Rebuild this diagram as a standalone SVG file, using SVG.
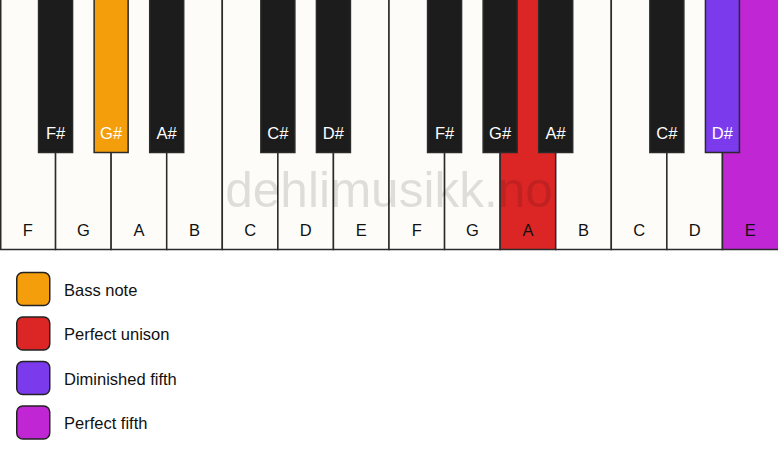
<svg xmlns="http://www.w3.org/2000/svg" width="778" height="461" viewBox="0 0 778 461">
<style>
.w{fill:#fdfcf9;stroke:#2a2a2a;stroke-width:1.5}
.b{fill:#1c1c1c;stroke:#2a2a2a;stroke-width:1.5}
.bass{fill:#f59e0b}
.uni{fill:#dc2626}
.dim{fill:#7c3aed}
.p5{fill:#c026d3}
.lw{font-family:"Liberation Sans",Arial,sans-serif;font-size:16.5px;fill:#111;text-anchor:middle}
.lb{font-family:"Liberation Sans",Arial,sans-serif;font-size:16.5px;fill:#fff;text-anchor:middle}
.lg{font-family:"Liberation Sans",Arial,sans-serif;font-size:16.5px;fill:#111}
.sw{stroke:#222;stroke-width:1.5}
</style>
<rect width="778" height="461" fill="#fff"/>
<g id="white-keys">
<g id="key-F1"><rect class="w" x="0.75" y="-1" width="54.82" height="250.5"/><text class="lw" x="27.8" y="236">F</text></g>
<g id="key-G1"><rect class="w" x="55.57" y="-1" width="55.57" height="250.5"/><text class="lw" x="83.4" y="236">G</text></g>
<g id="key-A1"><rect class="w" x="111.14" y="-1" width="55.57" height="250.5"/><text class="lw" x="138.9" y="236">A</text></g>
<g id="key-B1"><rect class="w" x="166.71" y="-1" width="55.57" height="250.5"/><text class="lw" x="194.5" y="236">B</text></g>
<g id="key-C1"><rect class="w" x="222.29" y="-1" width="55.57" height="250.5"/><text class="lw" x="250.1" y="236">C</text></g>
<g id="key-D1"><rect class="w" x="277.86" y="-1" width="55.57" height="250.5"/><text class="lw" x="305.6" y="236">D</text></g>
<g id="key-E1"><rect class="w" x="333.43" y="-1" width="55.57" height="250.5"/><text class="lw" x="361.2" y="236">E</text></g>
<g id="key-F2"><rect class="w" x="389" y="-1" width="55.57" height="250.5"/><text class="lw" x="416.8" y="236">F</text></g>
<g id="key-G2"><rect class="w" x="444.57" y="-1" width="55.57" height="250.5"/><text class="lw" x="472.4" y="236">G</text></g>
<g id="key-A2"><rect class="w uni" x="500.14" y="-1" width="55.57" height="250.5"/><text class="lw" x="527.9" y="236">A</text></g>
<g id="key-B2"><rect class="w" x="555.71" y="-1" width="55.57" height="250.5"/><text class="lw" x="583.5" y="236">B</text></g>
<g id="key-C2"><rect class="w" x="611.29" y="-1" width="55.57" height="250.5"/><text class="lw" x="639.1" y="236">C</text></g>
<g id="key-D2"><rect class="w" x="666.86" y="-1" width="55.57" height="250.5"/><text class="lw" x="694.6" y="236">D</text></g>
<g id="key-E2"><rect class="w p5" x="722.43" y="-1" width="56.5" height="250.5"/><text class="lw" x="750.2" y="236">E</text></g>
</g>
<text x="389" y="206.5" font-family="Liberation Sans,Arial,sans-serif" font-size="49.5" text-anchor="middle" fill="#000" fill-opacity="0.12">dehlimusikk.no</text>
<g id="black-keys">
<g id="key-Fs1"><rect class="b" x="38.57" y="-1" width="34" height="153.5"/><text class="lb" x="55.6" y="139">F#</text></g>
<g id="key-Gs1"><rect class="b bass" x="94.14" y="-1" width="34" height="153.5"/><text class="lb" x="111.1" y="139">G#</text></g>
<g id="key-As1"><rect class="b" x="149.71" y="-1" width="34" height="153.5"/><text class="lb" x="166.7" y="139">A#</text></g>
<g id="key-Cs1"><rect class="b" x="260.86" y="-1" width="34" height="153.5"/><text class="lb" x="277.9" y="139">C#</text></g>
<g id="key-Ds1"><rect class="b" x="316.43" y="-1" width="34" height="153.5"/><text class="lb" x="333.4" y="139">D#</text></g>
<g id="key-Fs2"><rect class="b" x="427.57" y="-1" width="34" height="153.5"/><text class="lb" x="444.6" y="139">F#</text></g>
<g id="key-Gs2"><rect class="b" x="483.14" y="-1" width="34" height="153.5"/><text class="lb" x="500.1" y="139">G#</text></g>
<g id="key-As2"><rect class="b" x="538.71" y="-1" width="34" height="153.5"/><text class="lb" x="555.7" y="139">A#</text></g>
<g id="key-Cs2"><rect class="b" x="649.86" y="-1" width="34" height="153.5"/><text class="lb" x="666.9" y="139">C#</text></g>
<g id="key-Ds2"><rect class="b dim" x="705.43" y="-1" width="34" height="153.5"/><text class="lb" x="722.4" y="139">D#</text></g>
</g>
<g id="connectors"/>
<g id="legend">
<g id="legend-bass"><rect class="sw bass" x="16.75" y="272.5" width="33" height="33" rx="6"/><text class="lg" x="64" y="295.5">Bass note</text></g>
<g id="legend-unison"><rect class="sw uni" x="16.75" y="317" width="33" height="33" rx="6"/><text class="lg" x="64" y="340">Perfect unison</text></g>
<g id="legend-dim5"><rect class="sw dim" x="16.75" y="361.5" width="33" height="33" rx="6"/><text class="lg" x="64" y="384.5">Diminished fifth</text></g>
<g id="legend-p5"><rect class="sw p5" x="16.75" y="406" width="33" height="33" rx="6"/><text class="lg" x="64" y="429">Perfect fifth</text></g>
</g>
</svg>
